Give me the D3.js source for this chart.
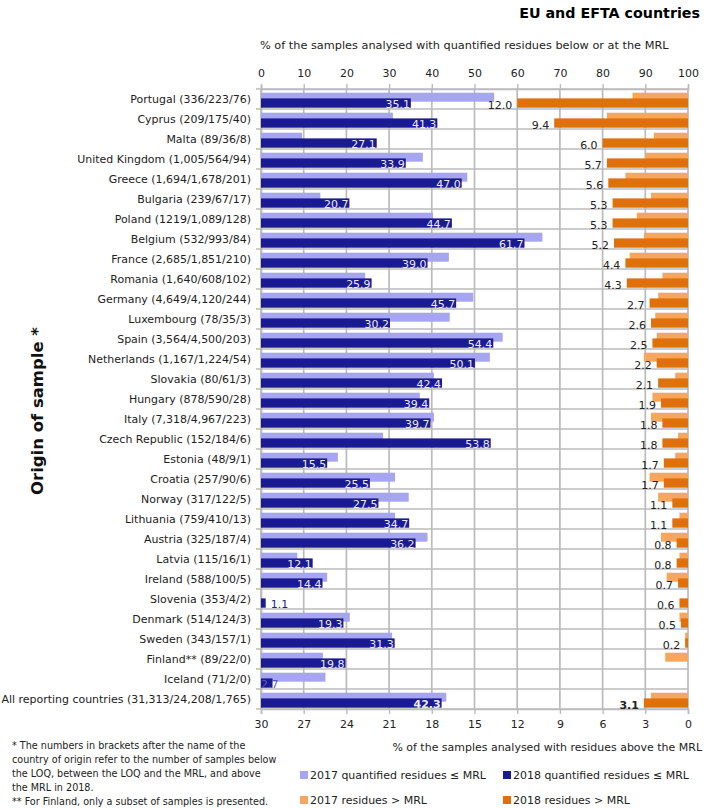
<!DOCTYPE html>
<html><head><meta charset="utf-8">
<script src="https://cdn.jsdelivr.net/npm/d3@7"></script>
<style>
body{margin:0;background:#fff;}
svg text{font-family:"DejaVu Sans",sans-serif;}
</style></head>
<body>
<svg id="chart" width="709" height="808"></svg>
<script>
const categories = ["Portugal (336/223/76)","Cyprus (209/175/40)","Malta (89/36/8)","United Kingdom (1,005/564/94)","Greece (1,694/1,678/201)","Bulgaria (239/67/17)","Poland (1219/1,089/128)","Belgium (532/993/84)","France (2,685/1,851/210)","Romania (1,640/608/102)","Germany (4,649/4,120/244)","Luxembourg (78/35/3)","Spain (3,564/4,500/203)","Netherlands (1,167/1,224/54)","Slovakia (80/61/3)","Hungary (878/590/28)","Italy (7,318/4,967/223)","Czech Republic (152/184/6)","Estonia (48/9/1)","Croatia (257/90/6)","Norway (317/122/5)","Lithuania (759/410/13)","Austria (325/187/4)","Latvia (115/16/1)","Ireland (588/100/5)","Slovenia (353/4/2)","Denmark (514/124/3)","Sweden (343/157/1)","Finland** (89/22/0)","Iceland (71/2/0)","All reporting countries (31,313/24,208/1,765)"];
const quant2017 = [54.6,30.9,9.6,37.9,48.3,13.9,40.3,65.9,44.0,24.4,49.7,44.2,56.6,53.6,40.5,37.2,40.5,28.6,18.0,31.4,34.6,31.4,39.0,8.5,15.5,0,20.8,30.7,14.5,15.1,43.4];
const quant2018 = [35.1,41.3,27.1,33.9,47.0,20.7,44.7,61.7,39.0,25.9,45.7,30.2,54.4,50.1,42.4,39.4,39.7,53.8,15.5,25.5,27.5,34.7,36.2,12.1,14.4,1.1,19.3,31.3,19.8,2.7,42.3];
const above2017 = [3.9,5.7,2.4,3.0,4.4,2.6,3.6,3.1,4.1,1.8,2.1,2.3,2.2,3.1,0.9,2.5,2.6,0.7,0.9,2.7,2.1,0.6,1.9,0.6,1.5,0,0.6,0.2,1.6,0,2.6];
const above2018 = [12.0,9.4,6.0,5.7,5.6,5.3,5.3,5.2,4.4,4.3,2.7,2.6,2.5,2.2,2.1,1.9,1.8,1.8,1.7,1.7,1.1,1.1,0.8,0.8,0.7,0.6,0.5,0.2,0,0,3.1];
const topTicks = [0,10,20,30,40,50,60,70,80,90,100];
const bottomTicks = [30,27,24,21,18,15,12,9,6,3,0];
const legendItems = ["2017 quantified residues ≤ MRL","2018 quantified residues ≤ MRL","2017 residues > MRL","2018 residues > MRL"];
const footnotes = ["* The numbers in brackets after the name of the","country of origin refer to the number of samples below","the LOQ, between the LOQ and the MRL, and above","the MRL in 2018.","** For Finland, only a subset of samples is presented."];

const C = {lb:"#a6a6f0", db:"#1a1a92", lo:"#f5a760", do:"#e0700a", grid:"#bbbbbb"};
const svg = d3.select("#chart");
const L = 261, R = 688, T = 89, B = 709;

// fit font size: longest category label should span ~250px as in the reference
const probe = svg.append("text").style("font-size","12px").text(categories[categories.length-1]);
const w12 = probe.node().getComputedTextLength();
probe.remove();
const FS = Math.min(13, 12*250/w12);
const fs = FS + "px";
const fsSmall = (FS*0.875) + "px";

const xTop = d3.scaleLinear().domain([0,100]).range([L,R]);
const xBot = d3.scaleLinear().domain([0,30]).range([R,L]);
const y = d3.scaleBand().domain(categories).range([T,B]).padding(0);
const bw = y.bandwidth();

// title
svg.append("text").attr("x",700).attr("y",18).attr("text-anchor","end")
  .style("font-weight","bold").style("font-size",(FS*1.3)+"px").text("EU and EFTA countries");

// gridlines
const g = svg.append("g");
g.selectAll(".vg").data(topTicks).join("line")
  .attr("x1",d=>xTop(d)).attr("x2",d=>xTop(d)).attr("y1",T).attr("y2",B)
  .attr("stroke",C.grid).attr("stroke-width",1.7);
g.selectAll(".hg").data(categories.concat(["__end"])).join("line")
  .attr("x1",L-5).attr("x2",R).attr("y1",(d,i)=>T+i*bw).attr("y2",(d,i)=>T+i*bw)
  .attr("stroke",C.grid).attr("stroke-width",1.7);

// top axis
const topAxis = svg.append("g").attr("transform",`translate(0,${T})`)
  .call(d3.axisTop(xTop).tickValues(topTicks).tickSize(4).tickPadding(8));
topAxis.select(".domain").attr("stroke",C.grid).attr("stroke-width",1.7);
topAxis.selectAll(".tick line").attr("stroke",C.grid).attr("stroke-width",1.4).attr("y2",-5);
topAxis.selectAll(".tick text").style("font-size",fs).attr("fill","#222");

// bottom axis
const botAxis = svg.append("g").attr("transform",`translate(0,${B})`)
  .call(d3.axisBottom(xBot).tickValues(bottomTicks).tickSize(5).tickPadding(6));
botAxis.select(".domain").attr("stroke",C.grid).attr("stroke-width",1.7);
botAxis.selectAll(".tick line").attr("stroke",C.grid).attr("stroke-width",1.4);
botAxis.selectAll(".tick text").style("font-size",fs).attr("fill","#222");

// left axis
const leftAxis = svg.append("g").attr("transform",`translate(${L},0)`)
  .call(d3.axisLeft(y).tickSize(0).tickPadding(10));
leftAxis.select(".domain").attr("stroke",C.grid).attr("stroke-width",1.7);
leftAxis.selectAll(".tick text").style("font-size",fs).attr("fill","#222");

// axis titles
svg.append("text").attr("x",L-1).attr("y",49).style("font-size",(FS*1.03)+"px").attr("fill","#222")
  .text("% of the samples analysed with quantified residues below or at the MRL");
svg.append("text").attr("x",702).attr("y",751).attr("text-anchor","end").style("font-size",fs).attr("fill","#222")
  .text("% of the samples analysed with residues above the MRL");
svg.append("text").attr("transform","translate(43,411) rotate(-90)").attr("text-anchor","middle")
  .style("font-weight","bold").style("font-size",(FS*1.5)+"px").attr("fill","#111").text("Origin of sample *");

const rows = categories.map((c,i)=>({c,i,q17:quant2017[i],q18:quant2018[i],a17:above2017[i],a18:above2018[i]}));
const lightY = d => y(d.c) + bw*0.185, lightH = bw*0.45;
const darkY = d => y(d.c) + bw*0.47, darkH = bw*0.465;

svg.append("defs").append("clipPath").attr("id","plotclip").append("rect")
  .attr("x",L).attr("y",T).attr("width",R-L).attr("height",B-T);

const bars = svg.append("g");
bars.selectAll(".lb").data(rows.filter(d=>d.q17>0)).join("rect")
  .attr("x",L).attr("y",lightY).attr("width",d=>xTop(d.q17)-L).attr("height",lightH).attr("fill",C.lb);
bars.selectAll(".db").data(rows).join("rect")
  .attr("x",L).attr("y",darkY).attr("width",d=>xTop(d.q18)-L).attr("height",darkH).attr("fill",C.db);
bars.selectAll(".lo").data(rows.filter(d=>d.a17>0)).join("rect")
  .attr("x",d=>xBot(d.a17)).attr("y",lightY).attr("width",d=>R-xBot(d.a17)).attr("height",lightH).attr("fill",C.lo);
bars.selectAll(".do").data(rows.filter(d=>d.a18>0)).join("rect")
  .attr("x",d=>xBot(d.a18)).attr("y",darkY).attr("width",d=>R-xBot(d.a18)).attr("height",darkH).attr("fill",C.do);

// value labels
const lab = svg.append("g").attr("clip-path","url(#plotclip)");
const last = categories.length-1;
lab.selectAll(".ql").data(rows).join("text")
  .attr("x",d=> d.q18 < 2 ? xTop(d.q18)+5 : (d.q18 < 5 ? L : xTop(d.q18)-1))
  .attr("y",d=>darkY(d)+darkH/2+1)
  .attr("dominant-baseline","central")
  .attr("text-anchor",d=> d.q18 < 5 ? "start" : "end")
  .attr("fill",d=> d.q18 < 2 ? C.db : (d.q18 < 5 ? "#5a5ac0" : "#ecebff"))
  .style("font-size",fs).style("font-weight",d=>d.i===last?"bold":"normal")
  .text(d=>d.q18.toFixed(1));
lab.selectAll(".al").data(rows.filter(d=>d.a18>0)).join("text")
  .attr("x",d=>xBot(d.a18)-5)
  .attr("y",d=>darkY(d)+darkH/2+2.5)
  .attr("dominant-baseline","central").attr("text-anchor","end")
  .attr("fill","#222").style("font-size",fs).style("font-weight",d=>d.i===last?"bold":"normal")
  .text(d=>d.a18.toFixed(1));

// footnotes
svg.append("g").selectAll("text").data(footnotes).join("text")
  .attr("x",12).attr("y",(d,i)=>749+i*14).style("font-size",fsSmall).attr("fill","#222").text(d=>d);

// legend
const legPos = [[300,779],[503,779],[300,804],[503,804]];
const legCol = [C.lb,C.db,C.lo,C.do];
const leg = svg.append("g").selectAll("g").data(legendItems).join("g")
  .attr("transform",(d,i)=>`translate(${legPos[i][0]},${legPos[i][1]})`);
leg.append("rect").attr("x",0).attr("y",-8).attr("width",8).attr("height",8).attr("fill",(d,i)=>legCol[i]);
leg.append("text").attr("x",10).attr("y",0).style("font-size",fs).attr("fill","#222").text(d=>d);
</script>
</body></html>
